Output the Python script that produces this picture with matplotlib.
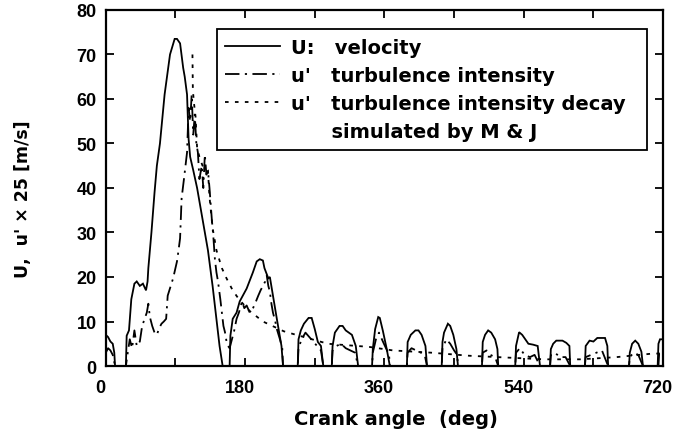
import numpy as np
import matplotlib.pyplot as plt
from matplotlib.lines import Line2D
from matplotlib.transforms import ScaledTranslation

# -----------------------------
# Dados
# -----------------------------
# U: velocidade (linha contínua)
U_angle = [0, 3, 6, 9, 11, 12, 26, 27, 30, 33, 37, 40, 44, 48, 52, 54, 55, 59, 63, 66, 70, 76,
           83, 89, 92, 96, 100, 102, 105, 106, 107, 109, 113, 118, 125, 132, 138, 143, 147, 151,
           160, 161, 164, 169, 173, 182, 190, 195, 199, 203, 205, 210, 212, 216, 221, 227, 229,
           248, 249, 252, 256, 262, 266, 270, 274, 278, 281,
           292, 293, 296, 302, 306, 310, 318, 323, 326,
           344, 345, 348, 352, 354, 358, 363, 367,
           389, 390, 394, 400, 404, 408, 413, 415,
           434, 435, 437, 442, 445, 449, 453, 455,
           486, 487, 490, 494, 498, 503, 506, 507,
           529, 530, 534, 538, 542, 546, 552, 558, 561,
           574, 575, 578, 582, 590, 595, 599, 600,
           619, 620, 625, 630, 635, 645, 648, 649,
           676, 677, 680, 684, 688, 692, 694,
           713, 714, 716, 720]
U_vel = [7, 6.5, 5.5, 5, 3, 0, 0, 6.8, 8, 15, 18.5, 19, 18, 18.5, 17, 19, 22, 30, 39, 45, 50, 61,
         70, 73.5, 73.5, 72.5, 67, 65, 61, 56, 51, 47, 44, 40, 33, 26, 18, 10.6, 4.5, 0,
         0, 6.8, 10.6, 12, 14.5, 17.4, 21, 23.5, 24, 23.7, 22, 19.7, 20, 15.8, 10.6, 4.5, 0,
         0, 6, 8, 9.5, 10.8, 10.8, 8.3, 5.4, 4.5, 0,
         0, 4.5, 7.5, 9, 9, 8, 7, 4.5, 0,
         0, 3.8, 8.3, 11, 10.8, 7.9, 3.8, 0,
         0, 5.4, 7, 8, 8, 7, 4.5, 0,
         0, 5.4, 7.5, 9.5, 9, 7, 3.8, 0,
         0, 5.4, 7, 8, 7.5, 6, 3.8, 0,
         0, 4.5, 7.6, 7, 6, 5, 4.8, 4.5, 0,
         0, 3.8, 5, 5.7, 5.7, 5.2, 4.5, 0,
         0, 4.5, 5.7, 5.5, 6.3, 6.3, 4.5, 0,
         0, 3, 5, 5.7, 5, 3.2, 0,
         0, 5, 6, 6]

# u': intensidade de turbulência (traço-ponto)
up_angle = [0, 3, 6, 9, 12, 26, 28, 31, 34, 37, 40, 44, 47, 50, 53, 55, 57, 60, 63, 66, 69, 72,
            75, 78, 80, 84, 87, 90, 92, 94, 96, 98, 101, 105, 107, 109, 111, 113, 115, 117, 119,
            121, 124, 126, 128, 130, 132, 134, 137, 139, 141, 143, 145, 148, 150, 152, 154, 156,
            158, 160, 163, 166, 169, 172, 176, 179, 182, 186, 190, 194, 197, 200, 203, 206, 208,
            210, 212, 214, 216, 219, 221, 225, 228, 229,
            248, 249, 253, 258, 263, 268, 273, 278, 281,
            292, 293, 298, 304, 310, 316, 322, 326,
            344, 345, 349, 353, 358, 362, 366, 367,
            389, 390, 395, 401, 407, 412, 415,
            434, 435, 440, 445, 450, 454, 455,
            486, 487, 492, 497, 503, 507,
            529, 530, 535, 541, 548, 554, 561,
            574, 575, 580, 587, 594, 600,
            619, 620, 627, 634, 641, 649,
            676, 677, 682, 688, 694,
            714, 715, 720]
up_val = [3, 4, 3.5, 2.5, 0, 0, 2.5, 6, 4, 8, 4.5, 5.5, 9, 10.5, 12, 14, 11, 9, 7.5, 7, 8.5, 9.5,
          10, 10.6, 15.8, 18, 19.7, 22, 23.5, 26, 28.7, 37.7, 42, 48, 58, 55, 61, 52, 56.5, 50, 48,
          42, 45, 40, 47.5, 43, 44, 40, 33, 29, 24, 21, 19, 15, 12, 9, 7.6, 5.5,
          4.5, 4, 6, 8, 10.6, 12, 14.5, 13, 13.6, 12, 12.9, 14.5, 15.8, 17, 18, 19, 20.3,
          18, 16.7, 14, 12, 10, 8.3, 6, 4, 0,
          0, 4, 6, 7.5, 6.5, 5.5, 4.5, 3.5, 0,
          0, 3.5, 4.5, 5, 4, 3.5, 3, 0,
          0, 3, 6, 7.5, 5.5, 4, 2.5, 0,
          0, 3, 4, 3.5, 3, 2.5, 0,
          0, 4, 6, 5, 3.5, 2.5, 0,
          0, 3, 3.5, 2.5, 2, 0,
          0, 3, 4, 2.5, 2, 2.5, 0,
          0, 2.5, 3, 2, 2, 0,
          0, 2, 2.5, 3, 3.5, 0,
          0, 2, 3, 2.5, 0,
          0, 3, 3]

# u': decaimento simulado por M & J (pontilhado)
decay_angle = [112, 112.5, 114, 116, 118, 121, 125, 129, 132, 134, 138, 143, 150, 156, 164, 172,
               185, 203, 230, 250, 287, 340, 371, 420, 470, 518, 567, 613, 660, 707, 720]
decay_val = [70, 62, 59, 56, 49, 47, 45, 44.5, 44, 38, 31, 26, 22, 19.7, 17, 15,
             12.5, 10, 7.8, 6.8, 5, 4.3, 3.5, 3, 2.3, 1.9, 1.5, 1.5, 2, 2.8, 2.8]

x_ticks = list(range(0, 721, 90))
x_labels = ['0', '', '180', '', '360', '', '540', '', '720']
y_ticks = list(range(0, 81, 10))

# -----------------------------
# Plot
# -----------------------------
plt.rcParams['font.family'] = 'DejaVu Sans'
plt.rcParams['font.weight'] = 'bold'

fig = plt.figure(figsize=(6.78, 4.39), dpi=100)
ax = fig.add_axes([0.156, 0.164, 0.822, 0.811])

lw = 1.3
ax.plot(U_angle, U_vel, color='black', lw=lw, solid_joinstyle='miter')
ax.plot(up_angle, up_val, color='black', lw=lw, dashes=(8, 3, 1.2, 3))
ax.plot(decay_angle, decay_val, color='black', lw=lw, dashes=(2, 3.5))

ax.set_xlim(0, 720)
ax.set_ylim(0, 80)
ax.set_xticks(x_ticks)
ax.set_xticklabels(x_labels)
ax.set_yticks(y_ticks)

ax.tick_params(direction='in', length=6, width=1.3, top=True, right=True, pad=6.5)
ax.tick_params(axis='x', pad=9)
# rótulos dos ticks numa fonte mais estreita (estilo Arial bold)
shift = ScaledTranslation(-4 / 72, 0, fig.dpi_scale_trans)
for lab in ax.get_xticklabels():
    lab.set_fontfamily('Liberation Sans')
    lab.set_fontsize(13)
    lab.set_transform(lab.get_transform() + shift)
for lab in ax.get_yticklabels():
    lab.set_fontfamily('Liberation Sans')
    lab.set_fontsize(13)
for s in ax.spines.values():
    s.set_linewidth(1.6)

ax.set_xlabel('Crank angle  (deg)', fontsize=14, fontweight='bold')
ax.xaxis.set_label_coords(0.52, -0.122)
ax.set_ylabel("U,  u' \u00d7 25 [m/s]", fontsize=12.5, fontweight='bold')
ax.yaxis.set_label_coords(-0.133, 0.47)

# Legenda
handles = [
    Line2D([], [], color='black', lw=lw),
    Line2D([], [], color='black', lw=lw, dashes=(8, 3, 1.2, 3)),
    Line2D([], [], color='black', lw=lw, dashes=(2, 3.5)),
    Line2D([], [], linestyle='none'),
]
labels = ["U:   velocity",
          "u'   turbulence intensity",
          "u'   turbulence intensity decay  ",
          "      simulated by M & J"]
leg = ax.legend(handles, labels, loc='upper left', bbox_to_anchor=(0.199, 0.947),
                borderaxespad=0, fontsize=14, handlelength=2.8, handletextpad=0.55,
                labelspacing=0.47, borderpad=0.45, fancybox=False, framealpha=1,
                edgecolor='black')
leg.get_frame().set_linewidth(1.3)

plt.savefig('out.png', dpi=100)
